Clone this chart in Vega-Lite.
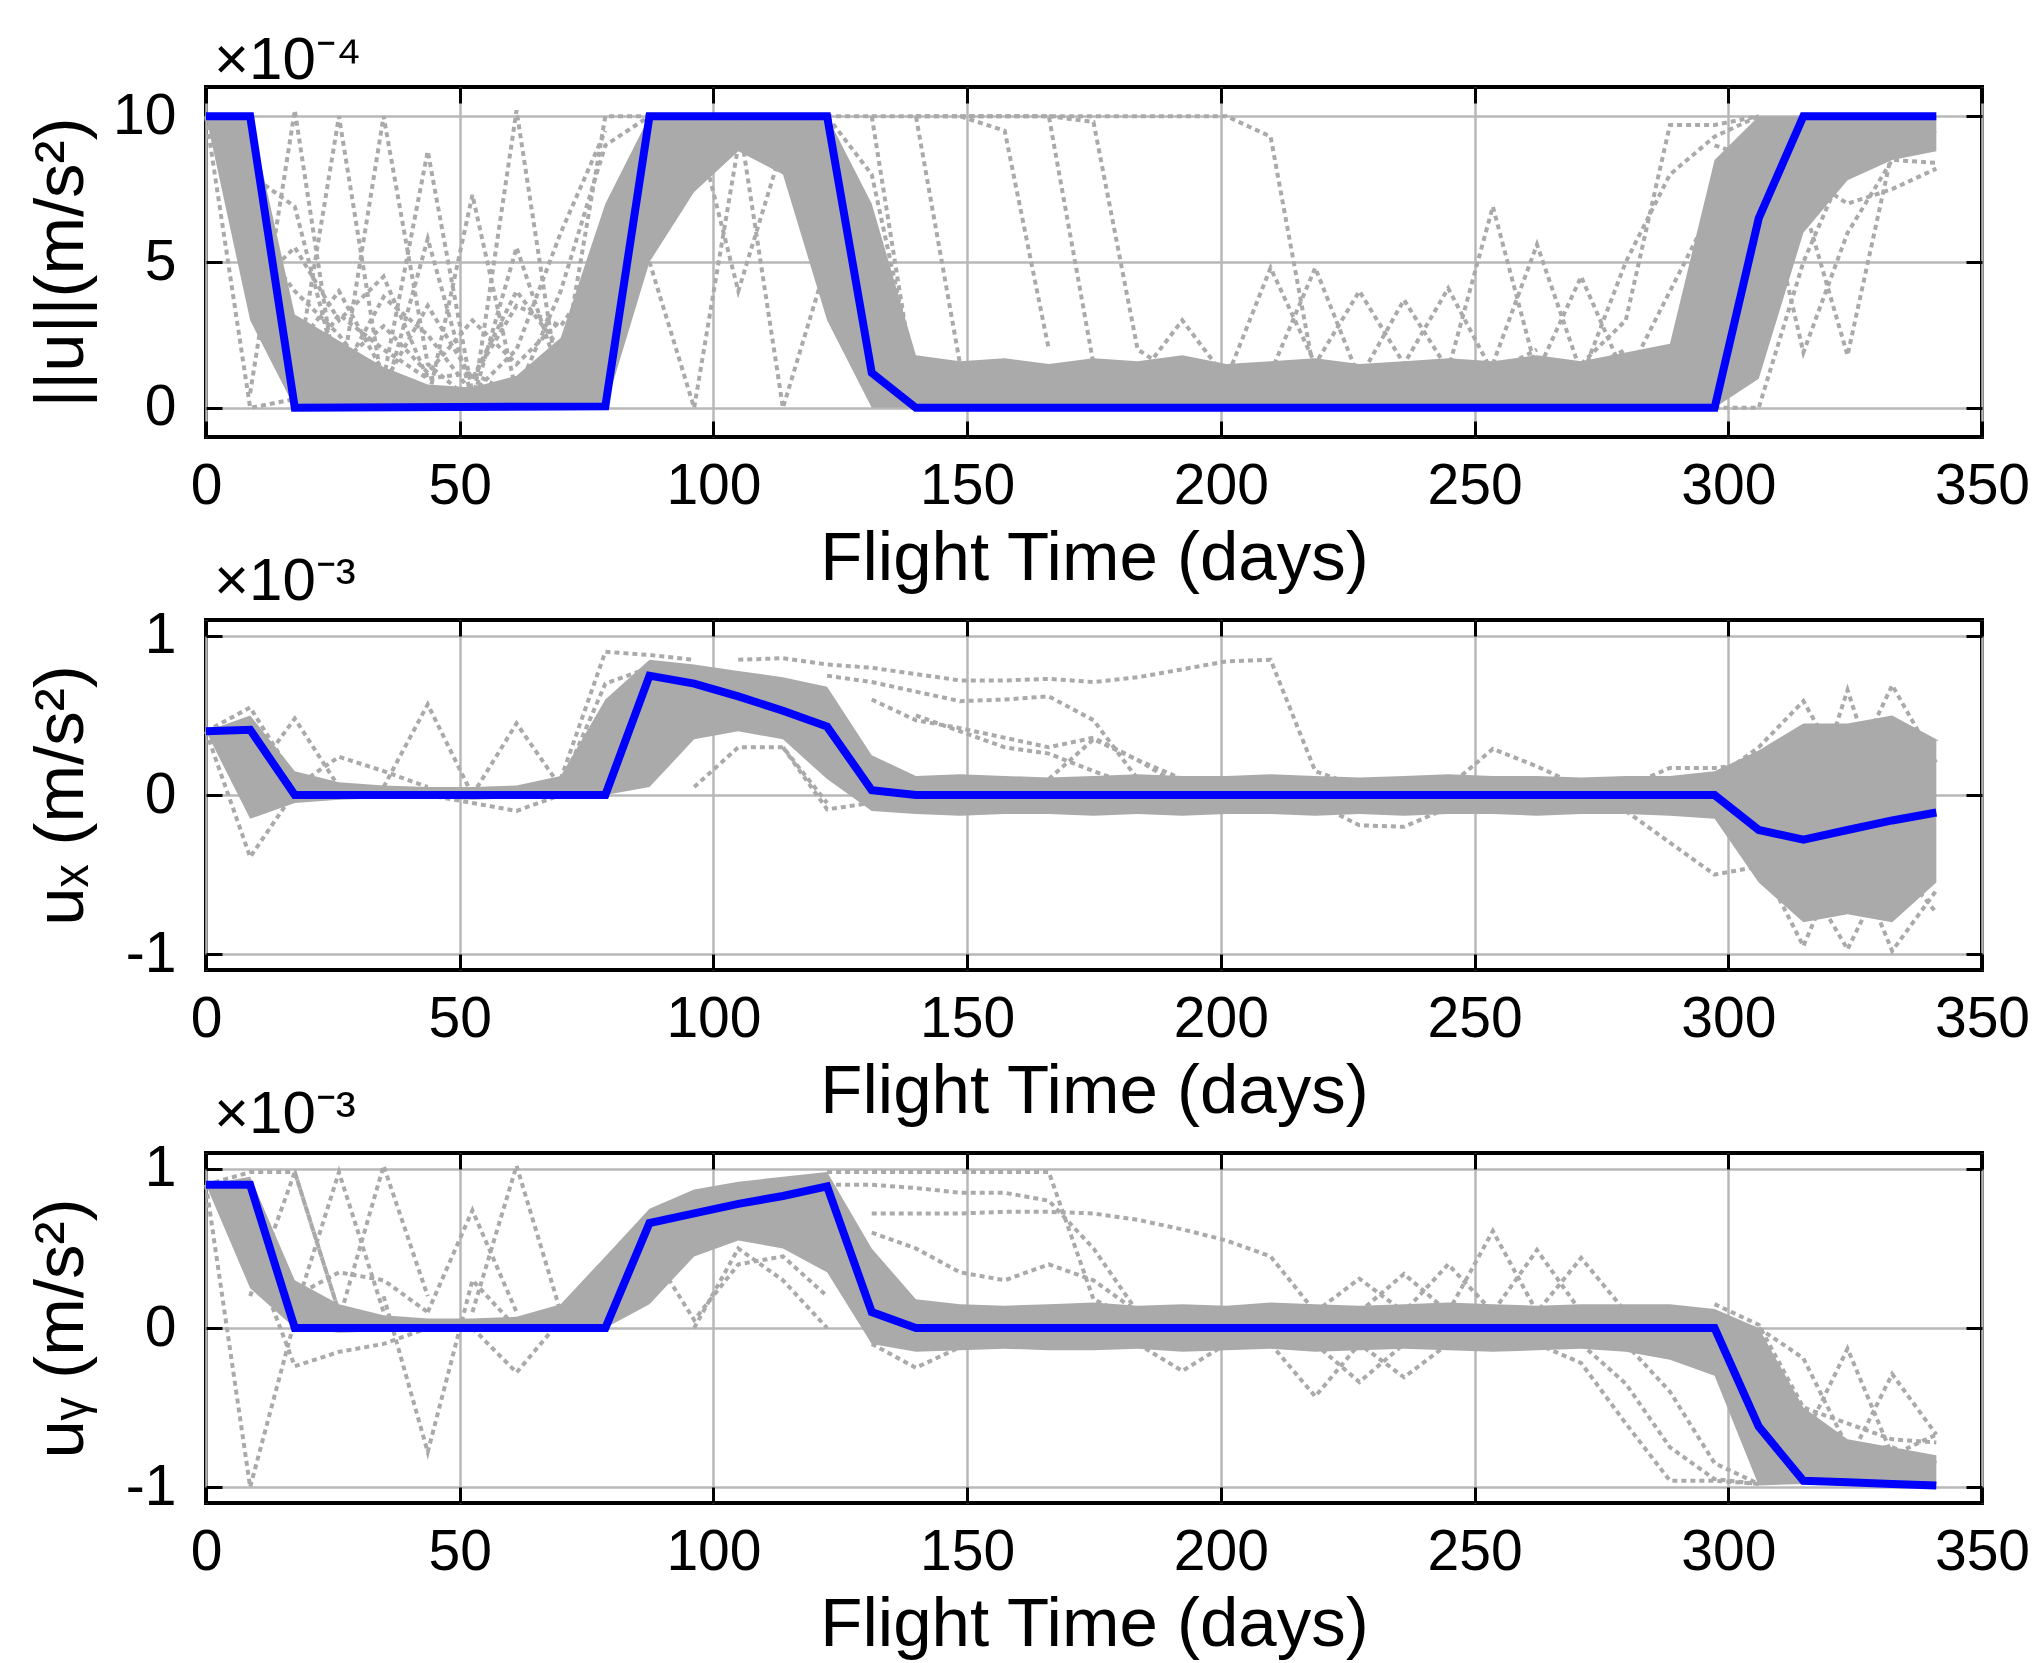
{
  "$schema": "https://vega.github.io/schema/vega-lite/v6.json",
  "background": "white",
  "padding": {"left": 25, "top": 28, "right": 5, "bottom": 5},
  "spacing": 183,
  "bounds": "flush",
  "config": {
    "font": "Liberation Sans",
    "view": {"stroke": "#000000", "strokeWidth": 4},
    "axis": {
      "domain": false,
      "tickColor": "#000000",
      "tickWidth": 3,
      "tickSize": -16,
      "labelFont": "Liberation Sans",
      "labelFontSize": 57,
      "labelColor": "#000000",
      "labelFlush": false,
      "labelOverlap": false,
      "titleFont": "Liberation Sans",
      "titleFontSize": 69,
      "titleFontWeight": "normal",
      "titleColor": "#000000",
      "gridColor": "#b8b8b8",
      "gridWidth": 2.5,
      "gridOpacity": 1
    },
    "title": {"font": "Liberation Sans", "fontSize": 60, "fontWeight": "normal", "color": "#000000", "anchor": "start", "frame": "group", "baseline": "alphabetic", "offset": -6, "dx": 8}
  },
  "datasets": {
    "p1band": [
      {"t": 0, "lo": 10, "hi": 10}, {"t": 8.7, "lo": 3, "hi": 10}, {"t": 17.5, "lo": 0, "hi": 3.2}, {"t": 26.2, "lo": 0, "hi": 2.3},
      {"t": 35, "lo": 0, "hi": 1.4}, {"t": 43.7, "lo": 0, "hi": 0.8}, {"t": 52.5, "lo": 0, "hi": 0.7}, {"t": 61.2, "lo": 0, "hi": 1.1},
      {"t": 69.9, "lo": 0, "hi": 2.4}, {"t": 78.7, "lo": 0, "hi": 7}, {"t": 87.4, "lo": 5, "hi": 10}, {"t": 96.2, "lo": 7.4, "hi": 10},
      {"t": 104.9, "lo": 8.8, "hi": 10}, {"t": 113.7, "lo": 8, "hi": 10}, {"t": 122.4, "lo": 3, "hi": 10}, {"t": 131.2, "lo": 0, "hi": 7},
      {"t": 139.9, "lo": 0, "hi": 1.8}, {"t": 148.6, "lo": 0, "hi": 1.6}, {"t": 157.4, "lo": 0, "hi": 1.7}, {"t": 166.1, "lo": 0, "hi": 1.5},
      {"t": 174.9, "lo": 0, "hi": 1.7}, {"t": 183.6, "lo": 0, "hi": 1.6}, {"t": 192.4, "lo": 0, "hi": 1.8}, {"t": 201.1, "lo": 0, "hi": 1.5},
      {"t": 209.8, "lo": 0, "hi": 1.6}, {"t": 218.6, "lo": 0, "hi": 1.7}, {"t": 227.3, "lo": 0, "hi": 1.5}, {"t": 236.1, "lo": 0, "hi": 1.6},
      {"t": 244.8, "lo": 0, "hi": 1.7}, {"t": 253.6, "lo": 0, "hi": 1.6}, {"t": 262.3, "lo": 0, "hi": 1.8}, {"t": 271, "lo": 0, "hi": 1.6},
      {"t": 279.8, "lo": 0, "hi": 1.9}, {"t": 288.5, "lo": 0, "hi": 2.2}, {"t": 297.3, "lo": 0, "hi": 8.5}, {"t": 306, "lo": 1, "hi": 10},
      {"t": 314.8, "lo": 6, "hi": 10}, {"t": 323.5, "lo": 7.8, "hi": 10}, {"t": 332.3, "lo": 8.5, "hi": 10}, {"t": 341, "lo": 8.8, "hi": 10}
    ],
    "p1out": [
      {"id": "a", "t": 0, "v": 10}, {"id": "a", "t": 8.7, "v": 0}, {"id": "a", "t": 17.5, "v": 0.3},
      {"id": "b", "t": 8.7, "v": 0.5}, {"id": "b", "t": 17.5, "v": 10.2}, {"id": "b", "t": 26.2, "v": 0.3},
      {"id": "c", "t": 17.5, "v": 0.8}, {"id": "c", "t": 26.2, "v": 10}, {"id": "c", "t": 35, "v": 0.5},
      {"id": "d", "t": 26.2, "v": 0.5}, {"id": "d", "t": 35, "v": 10}, {"id": "d", "t": 43.7, "v": 1.5}, {"id": "d", "t": 52.5, "v": 0.2},
      {"id": "e", "t": 35, "v": 1}, {"id": "e", "t": 43.7, "v": 8.8}, {"id": "e", "t": 52.5, "v": 0.5},
      {"id": "f", "t": 35, "v": 0.3}, {"id": "f", "t": 43.7, "v": 5.8}, {"id": "f", "t": 52.5, "v": 0.3},
      {"id": "g", "t": 43.7, "v": 0.2}, {"id": "g", "t": 52.5, "v": 7.3}, {"id": "g", "t": 61.2, "v": 0.5},
      {"id": "h", "t": 52.5, "v": 0}, {"id": "h", "t": 61.2, "v": 10.2}, {"id": "h", "t": 69.9, "v": 0.3},
      {"id": "i", "t": 52.5, "v": 0.2}, {"id": "i", "t": 61.2, "v": 5.5}, {"id": "i", "t": 69.9, "v": 1},
      {"id": "j", "t": 69.9, "v": 1}, {"id": "j", "t": 78.7, "v": 10}, {"id": "j", "t": 87.4, "v": 10},
      {"id": "k", "t": 17.5, "v": 2}, {"id": "k", "t": 26.2, "v": 4}, {"id": "k", "t": 35, "v": 1.2}, {"id": "k", "t": 43.7, "v": 0.3},
      {"id": "l", "t": 26.2, "v": 1}, {"id": "l", "t": 35, "v": 3.8}, {"id": "l", "t": 43.7, "v": 2.5}, {"id": "l", "t": 52.5, "v": 0.5},
      {"id": "m", "t": 87.4, "v": 5}, {"id": "m", "t": 96.2, "v": 0}, {"id": "m", "t": 104.9, "v": 9}, {"id": "m", "t": 113.7, "v": 10},
      {"id": "n", "t": 104.9, "v": 10}, {"id": "n", "t": 113.7, "v": 0}, {"id": "n", "t": 122.4, "v": 5}, {"id": "n", "t": 131.2, "v": 0.5},
      {"id": "o", "t": 122.4, "v": 10}, {"id": "o", "t": 131.2, "v": 10}, {"id": "o", "t": 139.9, "v": 0.5},
      {"id": "p", "t": 131.2, "v": 10}, {"id": "p", "t": 139.9, "v": 10}, {"id": "p", "t": 148.6, "v": 1.5},
      {"id": "q", "t": 139.9, "v": 10}, {"id": "q", "t": 148.6, "v": 10}, {"id": "q", "t": 157.4, "v": 9.5}, {"id": "q", "t": 166.1, "v": 2},
      {"id": "r", "t": 148.6, "v": 10}, {"id": "r", "t": 157.4, "v": 10}, {"id": "r", "t": 166.1, "v": 10}, {"id": "r", "t": 174.9, "v": 1.5},
      {"id": "s", "t": 139.9, "v": 10}, {"id": "s", "t": 201.1, "v": 10}, {"id": "s", "t": 209.8, "v": 9.3}, {"id": "s", "t": 218.6, "v": 1}, {"id": "s", "t": 227.3, "v": 0.5},
      {"id": "t1", "t": 166.1, "v": 10}, {"id": "t1", "t": 174.9, "v": 9.8}, {"id": "t1", "t": 183.6, "v": 2}, {"id": "t1", "t": 192.4, "v": 1},
      {"id": "u", "t": 183.6, "v": 1}, {"id": "u", "t": 192.4, "v": 3}, {"id": "u", "t": 201.1, "v": 1}, {"id": "u", "t": 209.8, "v": 4.8}, {"id": "u", "t": 218.6, "v": 1.5}, {"id": "u", "t": 227.3, "v": 4}, {"id": "u", "t": 236.1, "v": 1.5}, {"id": "u", "t": 244.8, "v": 4.1}, {"id": "u", "t": 253.6, "v": 1.2}, {"id": "u", "t": 262.3, "v": 2},
      {"id": "v", "t": 201.1, "v": 1}, {"id": "v", "t": 209.8, "v": 1.2}, {"id": "v", "t": 218.6, "v": 4.8}, {"id": "v", "t": 227.3, "v": 1}, {"id": "v", "t": 236.1, "v": 3.7}, {"id": "v", "t": 244.8, "v": 1.3}, {"id": "v", "t": 253.6, "v": 6.9}, {"id": "v", "t": 262.3, "v": 1.2}, {"id": "v", "t": 271, "v": 4.5}, {"id": "v", "t": 279.8, "v": 1},
      {"id": "w", "t": 253.6, "v": 1.5}, {"id": "w", "t": 262.3, "v": 5.6}, {"id": "w", "t": 271, "v": 1.2}, {"id": "w", "t": 279.8, "v": 2},
      {"id": "x1", "t": 271, "v": 1.5}, {"id": "x1", "t": 279.8, "v": 3}, {"id": "x1", "t": 288.5, "v": 9.7}, {"id": "x1", "t": 297.3, "v": 9.7}, {"id": "x1", "t": 306, "v": 10},
      {"id": "y1", "t": 271, "v": 1}, {"id": "y1", "t": 279.8, "v": 5}, {"id": "y1", "t": 288.5, "v": 8}, {"id": "y1", "t": 297.3, "v": 9.3}, {"id": "y1", "t": 306, "v": 10},
      {"id": "z1", "t": 279.8, "v": 1}, {"id": "z1", "t": 288.5, "v": 4}, {"id": "z1", "t": 297.3, "v": 7}, {"id": "z1", "t": 306, "v": 9.5},
      {"id": "aa", "t": 297.3, "v": 9}, {"id": "aa", "t": 306, "v": 8.5}, {"id": "aa", "t": 314.8, "v": 1.9}, {"id": "aa", "t": 323.5, "v": 6}, {"id": "aa", "t": 332.3, "v": 8.5}, {"id": "aa", "t": 341, "v": 8.4},
      {"id": "ab", "t": 306, "v": 9}, {"id": "ab", "t": 314.8, "v": 7}, {"id": "ab", "t": 323.5, "v": 1.8}, {"id": "ab", "t": 332.3, "v": 8.8}, {"id": "ab", "t": 341, "v": 9},
      {"id": "ac", "t": 297.3, "v": 0}, {"id": "ac", "t": 306, "v": 0}, {"id": "ac", "t": 314.8, "v": 5}, {"id": "ac", "t": 323.5, "v": 8.5}, {"id": "ac", "t": 332.3, "v": 9}, {"id": "ac", "t": 341, "v": 9.5},
      {"id": "ad", "t": 8.7, "v": 6}, {"id": "ad", "t": 17.5, "v": 4}, {"id": "ad", "t": 26.2, "v": 2.5}, {"id": "ad", "t": 35, "v": 0.5},
      {"id": "ae", "t": 8.7, "v": 8}, {"id": "ae", "t": 17.5, "v": 6.9}, {"id": "ae", "t": 26.2, "v": 1}, {"id": "ae", "t": 35, "v": 0.2},
      {"id": "af", "t": 61.2, "v": 0.5}, {"id": "af", "t": 69.9, "v": 4}, {"id": "af", "t": 78.7, "v": 9}, {"id": "af", "t": 87.4, "v": 10},
      {"id": "ag", "t": 52.5, "v": 0.5}, {"id": "ag", "t": 61.2, "v": 2}, {"id": "ag", "t": 69.9, "v": 6}, {"id": "ag", "t": 78.7, "v": 9.5},
      {"id": "ah", "t": 96.2, "v": 10}, {"id": "ah", "t": 104.9, "v": 4}, {"id": "ah", "t": 113.7, "v": 9}, {"id": "ah", "t": 122.4, "v": 10},
      {"id": "ai", "t": 113.7, "v": 10}, {"id": "ai", "t": 122.4, "v": 10}, {"id": "ai", "t": 131.2, "v": 8}, {"id": "ai", "t": 139.9, "v": 1},
      {"id": "aj", "t": 306, "v": 9.5}, {"id": "aj", "t": 314.8, "v": 8}, {"id": "aj", "t": 323.5, "v": 7}, {"id": "aj", "t": 332.3, "v": 7.5}, {"id": "aj", "t": 341, "v": 8.2},
      {"id": "ak", "t": 17.5, "v": 1}, {"id": "ak", "t": 26.2, "v": 3.2}, {"id": "ak", "t": 35, "v": 2}, {"id": "ak", "t": 43.7, "v": 1}, {"id": "ak", "t": 52.5, "v": 1.2}, {"id": "ak", "t": 61.2, "v": 0.4},
      {"id": "al", "t": 52.5, "v": 1}, {"id": "al", "t": 61.2, "v": 3.5}, {"id": "al", "t": 69.9, "v": 2.8}, {"id": "al", "t": 78.7, "v": 5},
      {"id": "am", "t": 17.5, "v": 3}, {"id": "am", "t": 26.2, "v": 1.5}, {"id": "am", "t": 35, "v": 2.8}, {"id": "am", "t": 43.7, "v": 1.2}, {"id": "am", "t": 52.5, "v": 3}, {"id": "am", "t": 61.2, "v": 1.5}, {"id": "am", "t": 69.9, "v": 3},
      {"id": "an", "t": 26.2, "v": 2}, {"id": "an", "t": 35, "v": 0.8}, {"id": "an", "t": 43.7, "v": 3.5}, {"id": "an", "t": 52.5, "v": 1}, {"id": "an", "t": 61.2, "v": 4}, {"id": "an", "t": 69.9, "v": 2},
      {"id": "ao", "t": 8.7, "v": 4}, {"id": "ao", "t": 17.5, "v": 5.5}, {"id": "ao", "t": 26.2, "v": 3}, {"id": "ao", "t": 35, "v": 4.5}, {"id": "ao", "t": 43.7, "v": 1}
    ],
    "p1blue": [
      {"t": 0, "v": 10}, {"t": 8.7, "v": 10}, {"t": 17.5, "v": 0}, {"t": 78.7, "v": 0.05}, {"t": 87.4, "v": 10}, {"t": 122.4, "v": 10},
      {"t": 131.2, "v": 1.2}, {"t": 139.9, "v": 0}, {"t": 297.3, "v": 0}, {"t": 306, "v": 6.5}, {"t": 314.8, "v": 10}, {"t": 341, "v": 10}
    ],
    "p2band": [
      {"t": 0, "lo": 0.4, "hi": 0.4}, {"t": 8.7, "lo": -0.15, "hi": 0.5}, {"t": 17.5, "lo": -0.05, "hi": 0.15}, {"t": 26.2, "lo": -0.03, "hi": 0.08},
      {"t": 35, "lo": -0.02, "hi": 0.06}, {"t": 43.7, "lo": -0.02, "hi": 0.05}, {"t": 52.5, "lo": -0.03, "hi": 0.05}, {"t": 61.2, "lo": -0.02, "hi": 0.06},
      {"t": 69.9, "lo": -0.02, "hi": 0.12}, {"t": 78.7, "lo": 0, "hi": 0.6}, {"t": 87.4, "lo": 0.05, "hi": 0.85}, {"t": 96.2, "lo": 0.35, "hi": 0.82},
      {"t": 104.9, "lo": 0.4, "hi": 0.78}, {"t": 113.7, "lo": 0.35, "hi": 0.74}, {"t": 122.4, "lo": 0.1, "hi": 0.68}, {"t": 131.2, "lo": -0.1, "hi": 0.25},
      {"t": 139.9, "lo": -0.12, "hi": 0.12}, {"t": 148.6, "lo": -0.13, "hi": 0.13}, {"t": 157.4, "lo": -0.12, "hi": 0.12}, {"t": 166.1, "lo": -0.12, "hi": 0.11},
      {"t": 174.9, "lo": -0.13, "hi": 0.12}, {"t": 183.6, "lo": -0.12, "hi": 0.13}, {"t": 192.4, "lo": -0.13, "hi": 0.12}, {"t": 201.1, "lo": -0.12, "hi": 0.12},
      {"t": 209.8, "lo": -0.12, "hi": 0.13}, {"t": 218.6, "lo": -0.13, "hi": 0.12}, {"t": 227.3, "lo": -0.12, "hi": 0.11}, {"t": 236.1, "lo": -0.13, "hi": 0.12},
      {"t": 244.8, "lo": -0.12, "hi": 0.13}, {"t": 253.6, "lo": -0.12, "hi": 0.12}, {"t": 262.3, "lo": -0.13, "hi": 0.12}, {"t": 271, "lo": -0.12, "hi": 0.11},
      {"t": 279.8, "lo": -0.12, "hi": 0.12}, {"t": 288.5, "lo": -0.13, "hi": 0.12}, {"t": 297.3, "lo": -0.15, "hi": 0.15}, {"t": 306, "lo": -0.55, "hi": 0.28},
      {"t": 314.8, "lo": -0.8, "hi": 0.45}, {"t": 323.5, "lo": -0.75, "hi": 0.45}, {"t": 332.3, "lo": -0.8, "hi": 0.5}, {"t": 341, "lo": -0.55, "hi": 0.35}
    ],
    "p2out": [
      {"id": "a", "t": 0, "v": 0.4}, {"id": "a", "t": 8.7, "v": -0.39}, {"id": "a", "t": 17.5, "v": 0.02},
      {"id": "b", "t": 0, "v": 0.4}, {"id": "b", "t": 8.7, "v": 0.55}, {"id": "b", "t": 17.5, "v": 0.1},
      {"id": "c", "t": 8.7, "v": 0.1}, {"id": "c", "t": 17.5, "v": 0.48}, {"id": "c", "t": 26.2, "v": 0.05},
      {"id": "d", "t": 17.5, "v": 0.05}, {"id": "d", "t": 26.2, "v": 0.24}, {"id": "d", "t": 35, "v": 0.15}, {"id": "d", "t": 43.7, "v": 0.05},
      {"id": "e", "t": 35, "v": 0.05}, {"id": "e", "t": 43.7, "v": 0.57}, {"id": "e", "t": 52.5, "v": 0},
      {"id": "f", "t": 52.5, "v": 0}, {"id": "f", "t": 61.2, "v": 0.45}, {"id": "f", "t": 69.9, "v": 0.05},
      {"id": "g", "t": 43.7, "v": 0}, {"id": "g", "t": 52.5, "v": -0.05}, {"id": "g", "t": 61.2, "v": -0.1}, {"id": "g", "t": 69.9, "v": 0},
      {"id": "h", "t": 69.9, "v": 0.1}, {"id": "h", "t": 78.7, "v": 0.9}, {"id": "h", "t": 87.4, "v": 0.88}, {"id": "h", "t": 96.2, "v": 0.85},
      {"id": "j", "t": 104.9, "v": 0.85}, {"id": "j", "t": 113.7, "v": 0.86}, {"id": "j", "t": 122.4, "v": 0.82}, {"id": "j", "t": 131.2, "v": 0.8}, {"id": "j", "t": 139.9, "v": 0.76}, {"id": "j", "t": 148.6, "v": 0.72}, {"id": "j", "t": 157.4, "v": 0.72}, {"id": "j", "t": 166.1, "v": 0.73}, {"id": "j", "t": 174.9, "v": 0.71}, {"id": "j", "t": 183.6, "v": 0.74}, {"id": "j", "t": 192.4, "v": 0.79}, {"id": "j", "t": 201.1, "v": 0.84}, {"id": "j", "t": 209.8, "v": 0.85}, {"id": "j", "t": 218.6, "v": 0.15}, {"id": "j", "t": 227.3, "v": 0.05},
      {"id": "k", "t": 122.4, "v": 0.75}, {"id": "k", "t": 131.2, "v": 0.71}, {"id": "k", "t": 139.9, "v": 0.65}, {"id": "k", "t": 148.6, "v": 0.59}, {"id": "k", "t": 157.4, "v": 0.6}, {"id": "k", "t": 166.1, "v": 0.62}, {"id": "k", "t": 174.9, "v": 0.47}, {"id": "k", "t": 183.6, "v": 0.1},
      {"id": "l", "t": 131.2, "v": 0.6}, {"id": "l", "t": 139.9, "v": 0.47}, {"id": "l", "t": 148.6, "v": 0.42}, {"id": "l", "t": 157.4, "v": 0.36}, {"id": "l", "t": 166.1, "v": 0.3}, {"id": "l", "t": 174.9, "v": 0.36}, {"id": "l", "t": 183.6, "v": 0.22}, {"id": "l", "t": 192.4, "v": 0.05},
      {"id": "m", "t": 139.9, "v": 0.5}, {"id": "m", "t": 148.6, "v": 0.4}, {"id": "m", "t": 157.4, "v": 0.3}, {"id": "m", "t": 166.1, "v": 0.26}, {"id": "m", "t": 174.9, "v": 0.15}, {"id": "m", "t": 183.6, "v": 0.05},
      {"id": "n", "t": 96.2, "v": 0.05}, {"id": "n", "t": 104.9, "v": 0.3}, {"id": "n", "t": 113.7, "v": 0.3}, {"id": "n", "t": 122.4, "v": -0.05},
      {"id": "o", "t": 87.4, "v": 0.1}, {"id": "o", "t": 96.2, "v": 0.4}, {"id": "o", "t": 104.9, "v": 0.55}, {"id": "o", "t": 113.7, "v": 0.5}, {"id": "o", "t": 122.4, "v": 0.3}, {"id": "o", "t": 131.2, "v": 0},
      {"id": "p", "t": 113.7, "v": 0.3}, {"id": "p", "t": 122.4, "v": -0.09}, {"id": "p", "t": 131.2, "v": -0.05},
      {"id": "q", "t": 218.6, "v": -0.05}, {"id": "q", "t": 227.3, "v": -0.19}, {"id": "q", "t": 236.1, "v": -0.2}, {"id": "q", "t": 244.8, "v": -0.08},
      {"id": "r", "t": 244.8, "v": 0.05}, {"id": "r", "t": 253.6, "v": 0.29}, {"id": "r", "t": 262.3, "v": 0.18}, {"id": "r", "t": 271, "v": 0.05},
      {"id": "s", "t": 279.8, "v": -0.1}, {"id": "s", "t": 288.5, "v": -0.3}, {"id": "s", "t": 297.3, "v": -0.5}, {"id": "s", "t": 306, "v": -0.45}, {"id": "s", "t": 314.8, "v": -0.3},
      {"id": "t1", "t": 279.8, "v": 0.05}, {"id": "t1", "t": 288.5, "v": 0.17}, {"id": "t1", "t": 297.3, "v": 0.17}, {"id": "t1", "t": 306, "v": 0.2},
      {"id": "u", "t": 297.3, "v": 0.1}, {"id": "u", "t": 306, "v": 0.3}, {"id": "u", "t": 314.8, "v": 0.59}, {"id": "u", "t": 323.5, "v": 0.1}, {"id": "u", "t": 332.3, "v": 0.69}, {"id": "u", "t": 341, "v": 0.2},
      {"id": "v", "t": 306, "v": 0.1}, {"id": "v", "t": 314.8, "v": -0.2}, {"id": "v", "t": 323.5, "v": 0.66}, {"id": "v", "t": 332.3, "v": -0.2}, {"id": "v", "t": 341, "v": 0.35},
      {"id": "w", "t": 306, "v": -0.4}, {"id": "w", "t": 314.8, "v": -0.95}, {"id": "w", "t": 323.5, "v": -0.3}, {"id": "w", "t": 332.3, "v": -0.98}, {"id": "w", "t": 341, "v": -0.6},
      {"id": "x1", "t": 306, "v": -0.2}, {"id": "x1", "t": 314.8, "v": -0.5}, {"id": "x1", "t": 323.5, "v": -0.97}, {"id": "x1", "t": 332.3, "v": -0.4}, {"id": "x1", "t": 341, "v": -0.74},
      {"id": "y1", "t": 166.1, "v": 0.1}, {"id": "y1", "t": 174.9, "v": 0.35}, {"id": "y1", "t": 183.6, "v": 0.22}, {"id": "y1", "t": 192.4, "v": 0.1},
      {"id": "z2", "t": 69.9, "v": 0.05}, {"id": "z2", "t": 78.7, "v": 0.7}, {"id": "z2", "t": 87.4, "v": 0.8}, {"id": "z2", "t": 96.2, "v": 0.78}
    ],
    "p2blue": [
      {"t": 0, "v": 0.4}, {"t": 8.7, "v": 0.41}, {"t": 17.5, "v": 0}, {"t": 78.7, "v": 0}, {"t": 87.4, "v": 0.75}, {"t": 96.2, "v": 0.7},
      {"t": 104.9, "v": 0.62}, {"t": 113.7, "v": 0.53}, {"t": 122.4, "v": 0.43}, {"t": 131.2, "v": 0.03}, {"t": 139.9, "v": 0}, {"t": 297.3, "v": 0},
      {"t": 306, "v": -0.22}, {"t": 314.8, "v": -0.28}, {"t": 323.5, "v": -0.22}, {"t": 332.3, "v": -0.16}, {"t": 341, "v": -0.11}
    ],
    "p3band": [
      {"t": 0, "lo": 0.9, "hi": 0.9}, {"t": 8.7, "lo": 0.25, "hi": 0.95}, {"t": 17.5, "lo": 0, "hi": 0.3}, {"t": 26.2, "lo": -0.03, "hi": 0.15},
      {"t": 35, "lo": -0.02, "hi": 0.08}, {"t": 43.7, "lo": -0.02, "hi": 0.06}, {"t": 52.5, "lo": -0.02, "hi": 0.06}, {"t": 61.2, "lo": -0.02, "hi": 0.07},
      {"t": 69.9, "lo": 0, "hi": 0.15}, {"t": 78.7, "lo": 0, "hi": 0.45}, {"t": 87.4, "lo": 0.15, "hi": 0.75}, {"t": 96.2, "lo": 0.45, "hi": 0.87},
      {"t": 104.9, "lo": 0.55, "hi": 0.92}, {"t": 113.7, "lo": 0.5, "hi": 0.95}, {"t": 122.4, "lo": 0.35, "hi": 0.98}, {"t": 131.2, "lo": -0.1, "hi": 0.5},
      {"t": 139.9, "lo": -0.15, "hi": 0.18}, {"t": 148.6, "lo": -0.14, "hi": 0.15}, {"t": 157.4, "lo": -0.13, "hi": 0.14}, {"t": 166.1, "lo": -0.14, "hi": 0.15},
      {"t": 174.9, "lo": -0.14, "hi": 0.16}, {"t": 183.6, "lo": -0.13, "hi": 0.14}, {"t": 192.4, "lo": -0.15, "hi": 0.15}, {"t": 201.1, "lo": -0.14, "hi": 0.14},
      {"t": 209.8, "lo": -0.13, "hi": 0.16}, {"t": 218.6, "lo": -0.15, "hi": 0.15}, {"t": 227.3, "lo": -0.14, "hi": 0.14}, {"t": 236.1, "lo": -0.13, "hi": 0.15},
      {"t": 244.8, "lo": -0.14, "hi": 0.16}, {"t": 253.6, "lo": -0.15, "hi": 0.15}, {"t": 262.3, "lo": -0.14, "hi": 0.14}, {"t": 271, "lo": -0.13, "hi": 0.15},
      {"t": 279.8, "lo": -0.15, "hi": 0.15}, {"t": 288.5, "lo": -0.2, "hi": 0.15}, {"t": 297.3, "lo": -0.3, "hi": 0.12}, {"t": 306, "lo": -0.99, "hi": 0},
      {"t": 314.8, "lo": -0.98, "hi": -0.5}, {"t": 323.5, "lo": -0.98, "hi": -0.7}, {"t": 332.3, "lo": -0.98, "hi": -0.75}, {"t": 341, "lo": -0.98, "hi": -0.8}
    ],
    "p3out": [
      {"id": "a", "t": 0, "v": 0.9}, {"id": "a", "t": 8.7, "v": -1}, {"id": "a", "t": 17.5, "v": 0.05},
      {"id": "b", "t": 0, "v": 0.9}, {"id": "b", "t": 8.7, "v": 0.98}, {"id": "b", "t": 17.5, "v": 0.98}, {"id": "b", "t": 26.2, "v": 0.1},
      {"id": "c", "t": 8.7, "v": 0.2}, {"id": "c", "t": 17.5, "v": 0.98}, {"id": "c", "t": 26.2, "v": 0.1},
      {"id": "d", "t": 17.5, "v": 0.1}, {"id": "d", "t": 26.2, "v": 0.98}, {"id": "d", "t": 35, "v": 0.1},
      {"id": "e", "t": 26.2, "v": 0.05}, {"id": "e", "t": 35, "v": 1.02}, {"id": "e", "t": 43.7, "v": 0.2},
      {"id": "f", "t": 35, "v": 0.2}, {"id": "f", "t": 43.7, "v": -0.78}, {"id": "f", "t": 52.5, "v": 0.3}, {"id": "f", "t": 61.2, "v": 0},
      {"id": "g", "t": 43.7, "v": 0.1}, {"id": "g", "t": 52.5, "v": 0.74}, {"id": "g", "t": 61.2, "v": 0.1},
      {"id": "h", "t": 52.5, "v": 0.1}, {"id": "h", "t": 61.2, "v": 1.02}, {"id": "h", "t": 69.9, "v": 0.1},
      {"id": "i", "t": 52.5, "v": 0}, {"id": "i", "t": 61.2, "v": -0.28}, {"id": "i", "t": 69.9, "v": 0.05},
      {"id": "j", "t": 8.7, "v": 0.5}, {"id": "j", "t": 17.5, "v": -0.24}, {"id": "j", "t": 26.2, "v": -0.15}, {"id": "j", "t": 35, "v": -0.1}, {"id": "j", "t": 43.7, "v": 0},
      {"id": "k", "t": 17.5, "v": 0.2}, {"id": "k", "t": 26.2, "v": 0.35}, {"id": "k", "t": 35, "v": 0.3}, {"id": "k", "t": 43.7, "v": 0.1},
      {"id": "l", "t": 87.4, "v": 0.5}, {"id": "l", "t": 96.2, "v": 0.05}, {"id": "l", "t": 104.9, "v": 0.4}, {"id": "l", "t": 113.7, "v": 0.45}, {"id": "l", "t": 122.4, "v": 0.2},
      {"id": "m", "t": 96.2, "v": 0}, {"id": "m", "t": 104.9, "v": 0.5}, {"id": "m", "t": 113.7, "v": 0.3}, {"id": "m", "t": 122.4, "v": 0},
      {"id": "n", "t": 122.4, "v": 0.98}, {"id": "n", "t": 166.1, "v": 0.98}, {"id": "n", "t": 174.9, "v": 0.18}, {"id": "n", "t": 183.6, "v": 0.05},
      {"id": "o", "t": 122.4, "v": 0.9}, {"id": "o", "t": 131.2, "v": 0.9}, {"id": "o", "t": 139.9, "v": 0.88}, {"id": "o", "t": 148.6, "v": 0.85}, {"id": "o", "t": 157.4, "v": 0.85}, {"id": "o", "t": 166.1, "v": 0.8}, {"id": "o", "t": 174.9, "v": 0.5}, {"id": "o", "t": 183.6, "v": 0.1},
      {"id": "p", "t": 131.2, "v": 0.72}, {"id": "p", "t": 139.9, "v": 0.72}, {"id": "p", "t": 148.6, "v": 0.72}, {"id": "p", "t": 157.4, "v": 0.73}, {"id": "p", "t": 166.1, "v": 0.73}, {"id": "p", "t": 174.9, "v": 0.72}, {"id": "p", "t": 183.6, "v": 0.68}, {"id": "p", "t": 192.4, "v": 0.62}, {"id": "p", "t": 201.1, "v": 0.55}, {"id": "p", "t": 209.8, "v": 0.45}, {"id": "p", "t": 218.6, "v": 0.1},
      {"id": "q", "t": 131.2, "v": 0.6}, {"id": "q", "t": 139.9, "v": 0.5}, {"id": "q", "t": 148.6, "v": 0.35}, {"id": "q", "t": 157.4, "v": 0.3}, {"id": "q", "t": 166.1, "v": 0.4}, {"id": "q", "t": 174.9, "v": 0.3}, {"id": "q", "t": 183.6, "v": 0.1},
      {"id": "r", "t": 131.2, "v": -0.1}, {"id": "r", "t": 139.9, "v": -0.25}, {"id": "r", "t": 148.6, "v": -0.12},
      {"id": "s", "t": 218.6, "v": 0.1}, {"id": "s", "t": 227.3, "v": 0.31}, {"id": "s", "t": 236.1, "v": 0.1}, {"id": "s", "t": 244.8, "v": 0.4}, {"id": "s", "t": 253.6, "v": 0.1}, {"id": "s", "t": 262.3, "v": 0.49}, {"id": "s", "t": 271, "v": 0.1},
      {"id": "s2", "t": 227.3, "v": 0.1}, {"id": "s2", "t": 236.1, "v": 0.34}, {"id": "s2", "t": 244.8, "v": 0.1}, {"id": "s2", "t": 253.6, "v": 0.61}, {"id": "s2", "t": 262.3, "v": 0.1}, {"id": "s2", "t": 271, "v": 0.44}, {"id": "s2", "t": 279.8, "v": 0.1},
      {"id": "t1", "t": 209.8, "v": -0.1}, {"id": "t1", "t": 218.6, "v": -0.43}, {"id": "t1", "t": 227.3, "v": -0.1}, {"id": "t1", "t": 236.1, "v": -0.31}, {"id": "t1", "t": 244.8, "v": -0.1},
      {"id": "t2", "t": 218.6, "v": -0.1}, {"id": "t2", "t": 227.3, "v": -0.34}, {"id": "t2", "t": 236.1, "v": -0.1},
      {"id": "u", "t": 183.6, "v": -0.1}, {"id": "u", "t": 192.4, "v": -0.27}, {"id": "u", "t": 201.1, "v": -0.1},
      {"id": "v", "t": 262.3, "v": -0.1}, {"id": "v", "t": 271, "v": -0.22}, {"id": "v", "t": 279.8, "v": -0.6}, {"id": "v", "t": 288.5, "v": -0.96}, {"id": "v", "t": 297.3, "v": -0.96}, {"id": "v", "t": 306, "v": -0.98},
      {"id": "w", "t": 271, "v": -0.1}, {"id": "w", "t": 279.8, "v": -0.35}, {"id": "w", "t": 288.5, "v": -0.75}, {"id": "w", "t": 297.3, "v": -0.95}, {"id": "w", "t": 306, "v": -0.98},
      {"id": "x1", "t": 279.8, "v": -0.1}, {"id": "x1", "t": 288.5, "v": -0.4}, {"id": "x1", "t": 297.3, "v": -0.85}, {"id": "x1", "t": 306, "v": -0.98},
      {"id": "y1", "t": 306, "v": 0}, {"id": "y1", "t": 314.8, "v": -0.19}, {"id": "y1", "t": 323.5, "v": -0.75}, {"id": "y1", "t": 332.3, "v": -0.75}, {"id": "y1", "t": 341, "v": -0.85},
      {"id": "z1", "t": 306, "v": -0.4}, {"id": "z1", "t": 314.8, "v": -0.7}, {"id": "z1", "t": 323.5, "v": -0.13}, {"id": "z1", "t": 332.3, "v": -0.8}, {"id": "z1", "t": 341, "v": -0.67},
      {"id": "aa", "t": 314.8, "v": -0.8}, {"id": "aa", "t": 323.5, "v": -0.85}, {"id": "aa", "t": 332.3, "v": -0.29}, {"id": "aa", "t": 341, "v": -0.67},
      {"id": "ab", "t": 297.3, "v": 0.15}, {"id": "ab", "t": 306, "v": 0.02}, {"id": "ab", "t": 314.8, "v": -0.5}, {"id": "ab", "t": 323.5, "v": -0.6}, {"id": "ab", "t": 332.3, "v": -0.7}, {"id": "ab", "t": 341, "v": -0.72}
    ],
    "p3blue": [
      {"t": 0, "v": 0.9}, {"t": 8.7, "v": 0.9}, {"t": 17.5, "v": 0}, {"t": 78.7, "v": 0}, {"t": 87.4, "v": 0.66}, {"t": 96.2, "v": 0.72},
      {"t": 104.9, "v": 0.78}, {"t": 113.7, "v": 0.83}, {"t": 122.4, "v": 0.89}, {"t": 131.2, "v": 0.1}, {"t": 139.9, "v": 0}, {"t": 297.3, "v": 0},
      {"t": 306, "v": -0.62}, {"t": 314.8, "v": -0.96}, {"t": 323.5, "v": -0.97}, {"t": 332.3, "v": -0.98}, {"t": 341, "v": -0.99}
    ]
  },
  "vconcat": [
    {
      "width": 1776,
      "height": 350,
      "title": {"text": "×10⁻⁴"},
      "resolve": {"axis": {"x": "independent", "y": "independent"}},
      "layer": [
        {
          "data": {"name": "p1band"},
          "mark": {"type": "area", "color": "#aaaaaa", "opacity": 1},
          "encoding": {
            "x": {"field": "t", "type": "quantitative", "scale": {"domain": [0, 350], "nice": false, "zero": false},
              "axis": {"orient": "bottom", "values": [0, 50, 100, 150, 200, 250, 300, 350], "grid": true, "labelPadding": 82, "labelBaseline": "alphabetic", "title": "Flight Time (days)", "titleBaseline": "alphabetic", "titleY": 142}},
            "y": {"field": "lo", "type": "quantitative", "scale": {"domain": [-1, 11], "nice": false, "zero": false},
              "axis": {"orient": "left", "values": [0, 5, 10], "grid": true, "labelPadding": 46, "title": "||u||(m/s²)", "titleBaseline": "alphabetic", "titleX": -124, "titleY": 175}},
            "y2": {"field": "hi"}
          }
        },
        {
          "data": {"name": "p1out"},
          "mark": {"type": "line", "color": "#aaaaaa", "strokeWidth": 4, "strokeDash": [5, 4]},
          "encoding": {
            "x": {"field": "t", "type": "quantitative", "axis": null},
            "y": {"field": "v", "type": "quantitative", "axis": null},
            "detail": {"field": "id"}
          }
        },
        {
          "data": {"name": "p1blue"},
          "mark": {"type": "line", "color": "#0000ff", "strokeWidth": 8},
          "encoding": {
            "x": {"field": "t", "type": "quantitative", "axis": {"orient": "top", "values": [0, 50, 100, 150, 200, 250, 300, 350], "labels": false, "grid": false, "title": null}},
            "y": {"field": "v", "type": "quantitative", "axis": {"orient": "right", "values": [0, 5, 10], "labels": false, "grid": false, "title": null}}
          }
        }
      ]
    },
    {
      "width": 1776,
      "height": 350,
      "title": {"text": "×10⁻³"},
      "resolve": {"axis": {"x": "independent", "y": "independent"}},
      "layer": [
        {
          "data": {"name": "p2band"},
          "mark": {"type": "area", "color": "#aaaaaa", "opacity": 1},
          "encoding": {
            "x": {"field": "t", "type": "quantitative", "scale": {"domain": [0, 350], "nice": false, "zero": false},
              "axis": {"orient": "bottom", "values": [0, 50, 100, 150, 200, 250, 300, 350], "grid": true, "labelPadding": 82, "labelBaseline": "alphabetic", "title": "Flight Time (days)", "titleBaseline": "alphabetic", "titleY": 142}},
            "y": {"field": "lo", "type": "quantitative", "scale": {"domain": [-1.1, 1.1], "nice": false, "zero": false},
              "axis": {"orient": "left", "values": [-1, 0, 1], "labelExpr": "'' + datum.value", "grid": true, "labelPadding": 46, "title": "uₓ (m/s²)", "titleBaseline": "alphabetic", "titleX": -124, "titleY": 175}},
            "y2": {"field": "hi"}
          }
        },
        {
          "data": {"name": "p2out"},
          "mark": {"type": "line", "color": "#aaaaaa", "strokeWidth": 4, "strokeDash": [5, 4]},
          "encoding": {
            "x": {"field": "t", "type": "quantitative", "axis": null},
            "y": {"field": "v", "type": "quantitative", "axis": null},
            "detail": {"field": "id"}
          }
        },
        {
          "data": {"name": "p2blue"},
          "mark": {"type": "line", "color": "#0000ff", "strokeWidth": 8},
          "encoding": {
            "x": {"field": "t", "type": "quantitative", "axis": {"orient": "top", "values": [0, 50, 100, 150, 200, 250, 300, 350], "labels": false, "grid": false, "title": null}},
            "y": {"field": "v", "type": "quantitative", "axis": {"orient": "right", "values": [-1, 0, 1], "labels": false, "grid": false, "title": null}}
          }
        }
      ]
    },
    {
      "width": 1776,
      "height": 350,
      "title": {"text": "×10⁻³"},
      "resolve": {"axis": {"x": "independent", "y": "independent"}},
      "layer": [
        {
          "data": {"name": "p3band"},
          "mark": {"type": "area", "color": "#aaaaaa", "opacity": 1},
          "encoding": {
            "x": {"field": "t", "type": "quantitative", "scale": {"domain": [0, 350], "nice": false, "zero": false},
              "axis": {"orient": "bottom", "values": [0, 50, 100, 150, 200, 250, 300, 350], "grid": true, "labelPadding": 82, "labelBaseline": "alphabetic", "title": "Flight Time (days)", "titleBaseline": "alphabetic", "titleY": 142}},
            "y": {"field": "lo", "type": "quantitative", "scale": {"domain": [-1.1, 1.1], "nice": false, "zero": false},
              "axis": {"orient": "left", "values": [-1, 0, 1], "labelExpr": "'' + datum.value", "grid": true, "labelPadding": 46, "title": "uᵧ (m/s²)", "titleBaseline": "alphabetic", "titleX": -124, "titleY": 175}},
            "y2": {"field": "hi"}
          }
        },
        {
          "data": {"name": "p3out"},
          "mark": {"type": "line", "color": "#aaaaaa", "strokeWidth": 4, "strokeDash": [5, 4]},
          "encoding": {
            "x": {"field": "t", "type": "quantitative", "axis": null},
            "y": {"field": "v", "type": "quantitative", "axis": null},
            "detail": {"field": "id"}
          }
        },
        {
          "data": {"name": "p3blue"},
          "mark": {"type": "line", "color": "#0000ff", "strokeWidth": 8},
          "encoding": {
            "x": {"field": "t", "type": "quantitative", "axis": {"orient": "top", "values": [0, 50, 100, 150, 200, 250, 300, 350], "labels": false, "grid": false, "title": null}},
            "y": {"field": "v", "type": "quantitative", "axis": {"orient": "right", "values": [-1, 0, 1], "labels": false, "grid": false, "title": null}}
          }
        }
      ]
    }
  ]
}
